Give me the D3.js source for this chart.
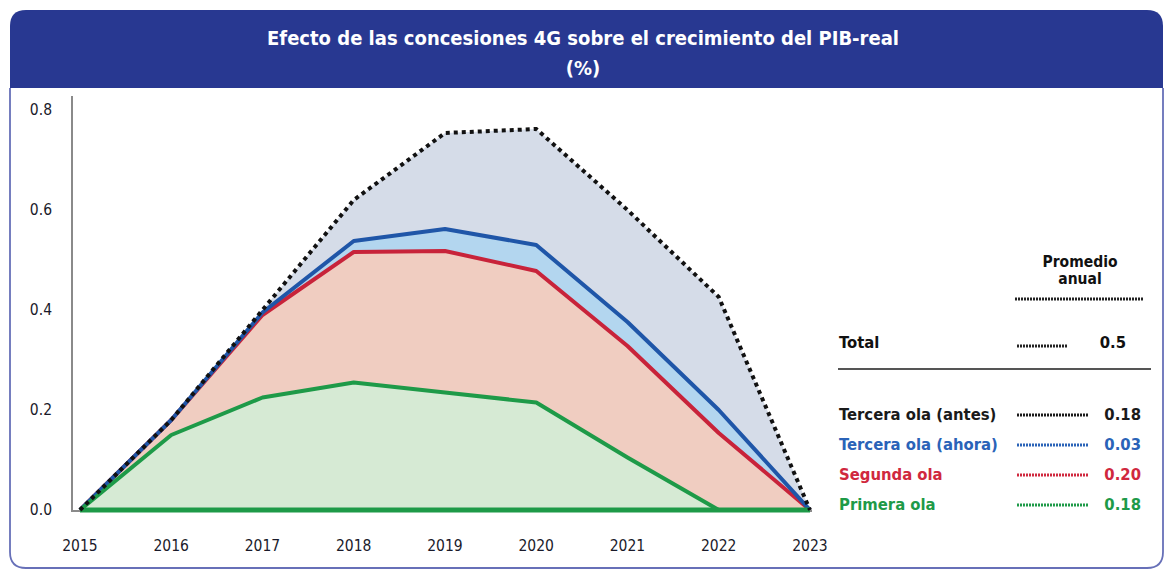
<!DOCTYPE html>
<html><head><meta charset="utf-8">
<script src="https://cdn.jsdelivr.net/npm/d3@7"></script>
<style>body{margin:0;background:#fff}svg{display:block}text{font-family:"DejaVu Sans Condensed","DejaVu Sans",sans-serif}</style>
</head><body><svg id="c" width="1171" height="571"></svg>
<script>
const years = [2015,2016,2017,2018,2019,2020,2021,2022,2023];
// cumulative levels
const primera = [0,0.15,0.225,0.255,0.235,0.215,0.105,0,0];
const segunda = [0,0.18,0.39,0.516,0.518,0.478,0.328,0.154,0];
const terceraAhora = [0,0.18,0.395,0.538,0.562,0.53,0.376,0.20,0];
const total = [0,0.18,0.40,0.62,0.754,0.762,0.60,0.426,0];
const yTicks = [0,0.2,0.4,0.6,0.8];
const title1 = "Efecto de las concesiones 4G sobre el crecimiento del PIB-real";
const title2 = "(%)";
const legLabels = ["Tercera ola (antes)","Tercera ola (ahora)","Segunda ola","Primera ola"];
const legValues = ["0.18","0.03","0.20","0.18"];
const legColors = ["#1a1a1a","#2a63b8","#d0283e","#1e9a48"];

const svg = d3.select("#c");
// frame
const L=10,T=10,R=1163,B=568,rad=16;
svg.append("path").attr("d",`M${L},${T+rad}Q${L},${T} ${L+rad},${T}H${R-rad}Q${R},${T} ${R},${T+rad}V88H${L}Z`).attr("fill","#283891");
svg.append("path").attr("d",`M${L},88V${B-rad}Q${L},${B} ${L+rad},${B}H${R-rad}Q${R},${B} ${R},${B-rad}V88`).attr("fill","none").attr("stroke","#6770b8").attr("stroke-width",1.8);
svg.append("text").attr("x",583).attr("y",45).attr("text-anchor","middle").attr("fill","#fff").attr("font-weight","bold").attr("font-size",20).text(title1);
svg.append("text").attr("x",583).attr("y",75).attr("text-anchor","middle").attr("fill","#fff").attr("font-weight","bold").attr("font-size",20).text(title2);

const x = d3.scaleLinear().domain([2015,2023]).range([80,810]);
const y = d3.scaleLinear().domain([0,0.8]).range([510,110]);

// axes
svg.append("line").attr("x1",72).attr("x2",72).attr("y1",96).attr("y2",512).attr("stroke","#8a8a8a").attr("stroke-width",2);
svg.append("line").attr("x1",71).attr("x2",812).attr("y1",511).attr("y2",511).attr("stroke","#8a8a8a").attr("stroke-width",2);
svg.selectAll(".yt").data(yTicks).enter().append("text").attr("x",52).attr("y",d=>y(d)+5).attr("text-anchor","end").attr("font-size",15.5).attr("fill","#1a1a2a").text(d=>d.toFixed(1));
svg.selectAll(".xt").data(years).enter().append("text").attr("x",d=>x(d)).attr("y",551).attr("text-anchor","middle").attr("font-size",15.5).attr("fill","#1a1a2a").text(d=>d);

const layers = [
  {lo:terceraAhora, hi:total, fill:"#d5dce8"},
  {lo:segunda, hi:terceraAhora, fill:"#b3d6ef"},
  {lo:primera, hi:segunda, fill:"#f0cdc1"},
  {lo:years.map(()=>0), hi:primera, fill:"#d6ead4"}
];
layers.forEach(l=>{
  const a = d3.area().x((d,i)=>x(years[i])).y0((d,i)=>y(l.lo[i])).y1((d,i)=>y(l.hi[i]));
  svg.append("path").datum(l.hi).attr("d",a).attr("fill",l.fill);
});
const line = d3.line().x((d,i)=>x(years[i])).y(d=>y(d));
svg.append("path").datum(segunda).attr("d",line).attr("fill","none").attr("stroke","#c8233a").attr("stroke-width",4).attr("stroke-linejoin","round");
svg.append("path").datum(terceraAhora).attr("d",line).attr("fill","none").attr("stroke","#1f56a8").attr("stroke-width",4).attr("stroke-linejoin","round");
svg.append("path").datum(primera).attr("d",line).attr("fill","none").attr("stroke","#1e9a48").attr("stroke-width",4).attr("stroke-linejoin","round");
svg.append("line").attr("x1",x(2015)).attr("x2",x(2023)).attr("y1",y(0)).attr("y2",y(0)).attr("stroke","#1e9a48").attr("stroke-width",5);
svg.append("path").datum(total).attr("d",line).attr("fill","none").attr("stroke","#111").attr("stroke-width",4).attr("stroke-dasharray","4,4");

// legend
const lg = svg.append("g");
lg.append("text").attr("x",1080).attr("y",267).attr("text-anchor","middle").attr("font-weight","bold").attr("font-size",15.5).attr("fill","#111").text("Promedio");
lg.append("text").attr("x",1080).attr("y",284).attr("text-anchor","middle").attr("font-weight","bold").attr("font-size",15.5).attr("fill","#111").text("anual");
lg.append("line").attr("x1",1015).attr("x2",1144).attr("y1",299).attr("y2",299).attr("stroke","#222").attr("stroke-width",3).attr("stroke-dasharray","2,1");
lg.append("text").attr("x",839).attr("y",348).attr("font-weight","bold").attr("font-size",16.5).attr("fill","#111").text("Total");
lg.append("line").attr("x1",1017).attr("x2",1068).attr("y1",346).attr("y2",346).attr("stroke","#222").attr("stroke-width",3).attr("stroke-dasharray","2,1");
lg.append("text").attr("x",1126).attr("y",348).attr("text-anchor","end").attr("font-weight","bold").attr("font-size",16.5).attr("fill","#111").text("0.5");
lg.append("line").attr("x1",838).attr("x2",1151).attr("y1",369).attr("y2",369).attr("stroke","#555").attr("stroke-width",2);
legLabels.forEach((t,i)=>{
  const yy = 420 + i*30;
  lg.append("text").attr("x",839).attr("y",yy).attr("font-weight","bold").attr("font-size",16.5).attr("fill",legColors[i]).text(t);
  lg.append("line").attr("x1",1017).attr("x2",1089).attr("y1",yy-5).attr("y2",yy-5).attr("stroke",legColors[i]).attr("stroke-width",3).attr("stroke-dasharray","2,1");
  lg.append("text").attr("x",1141).attr("y",yy).attr("text-anchor","end").attr("font-weight","bold").attr("font-size",16.5).attr("fill",legColors[i]).text(legValues[i]);
});
</script></body></html>
